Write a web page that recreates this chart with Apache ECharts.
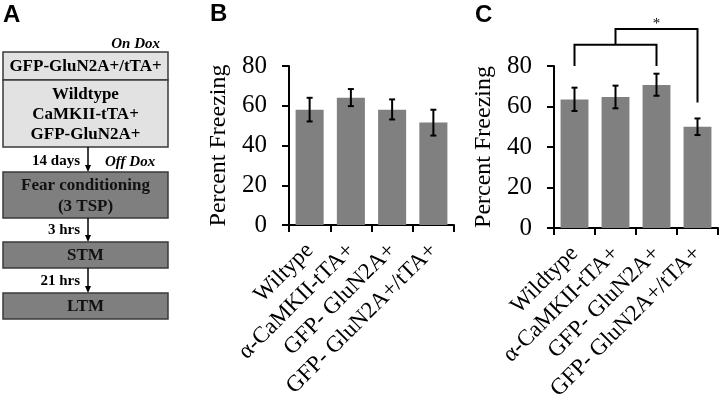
<!DOCTYPE html>
<html><head><meta charset="utf-8">
<script src="https://cdn.jsdelivr.net/npm/echarts@6/dist/echarts.min.js"></script>
<style>html,body{margin:0;padding:0;background:#fff}#c{width:720px;height:404px}</style>
</head><body><div id="c"></div>
<script>
const categoriesB = ['Wiltype', 'α-CaMKII-tTA+', 'GFP- GluN2A+', 'GFP- GluN2A+/tTA+'];
const categoriesC = ['Wildtype', 'α-CaMKII-tTA+', 'GFP- GluN2A+', 'GFP- GluN2A+/tTA+'];
const meansB = [58, 64, 58, 51.6];
const errLowB = [52.1, 59.8, 53.1, 45];
const errHighB = [64, 68.4, 63.2, 58];
const meansC = [63.5, 64.7, 70.6, 50];
const errLowC = [57.8, 59.1, 65.3, 45.9];
const errHighC = [69.3, 70.3, 76.2, 54.1];
const yMin = 0, yMax = 80, yStep = 20;
const yName = 'Percent Freezing';
// significance brackets in panel C: [fromCat, toCat, legLowLeft, top, legLowRight]
const bracket1 = [0, 2, 80, 90.5, 80];
const bracket2 = [1, 3, 90.5, 98.3, 62];
const sigLabel = '*';

const SERIF = '"Liberation Serif","Times New Roman",serif';
const chart = echarts.init(document.getElementById('c'), null, {renderer: 'canvas'});

function xAx(gi, cats) {
  return {
    type: 'category', gridIndex: gi, data: cats,
    axisLine: {lineStyle: {color: '#000', width: 2}},
    axisTick: {show: true, length: 7, lineStyle: {color: '#000', width: 2}},
    axisLabel: {interval: 0, rotate: 45, fontFamily: SERIF, fontSize: 23, color: '#000', margin: 22}
  };
}
function yAx(gi) {
  return {
    type: 'value', gridIndex: gi, min: yMin, max: yMax, interval: yStep,
    name: yName, nameLocation: 'middle', nameGap: 58,
    nameTextStyle: {fontFamily: SERIF, fontSize: 24, color: '#000'},
    axisLine: {show: true, lineStyle: {color: '#000', width: 2}},
    axisTick: {show: true, length: 7, lineStyle: {color: '#000', width: 2}},
    splitLine: {show: false},
    axisLabel: {fontFamily: SERIF, fontSize: 25, color: '#000', margin: 22}
  };
}
function errData(lo, hi) { return lo.map((l, i) => [i, l, hi[i]]); }
function errRender(params, api) {
  const x = api.value(0);
  const lo = api.coord([x, api.value(1)]);
  const hi = api.coord([x, api.value(2)]);
  const cap = 3, st = {stroke: '#000', lineWidth: 2};
  return {type: 'group', children: [
    {type: 'line', shape: {x1: lo[0], y1: lo[1], x2: hi[0], y2: hi[1]}, style: st},
    {type: 'line', shape: {x1: hi[0] - cap, y1: hi[1], x2: hi[0] + cap, y2: hi[1]}, style: st},
    {type: 'line', shape: {x1: lo[0] - cap, y1: lo[1], x2: lo[0] + cap, y2: lo[1]}, style: st}
  ]};
}

chart.setOption({
  animation: false,
  backgroundColor: '#fff',
  grid: [
    {left: 289, width: 165, top: 66, height: 159},
    {left: 554, width: 164, top: 66, height: 162}
  ],
  xAxis: [xAx(0, categoriesB), xAx(1, categoriesC)],
  yAxis: [yAx(0), yAx(1)],
  series: [
    {type: 'bar', xAxisIndex: 0, yAxisIndex: 0, data: meansB, barCategoryGap: '32%', itemStyle: {color: '#808080'}},
    {type: 'custom', xAxisIndex: 0, yAxisIndex: 0, data: errData(errLowB, errHighB), renderItem: errRender, z: 5},
    {type: 'bar', xAxisIndex: 1, yAxisIndex: 1, data: meansC, barCategoryGap: '32%', itemStyle: {color: '#808080'}},
    {type: 'custom', xAxisIndex: 1, yAxisIndex: 1, data: errData(errLowC, errHighC), renderItem: errRender, z: 5}
  ]
});

// ----- graphics: panel A flowchart, panel letters, brackets -----
const g = [];
function txt(x, y, s, font, align, fill) {
  g.push({type: 'text', x: x, y: y, style: {text: s, font: font, fill: fill || '#000',
    textAlign: align || 'center', textVerticalAlign: 'middle', align: align || 'center', verticalAlign: 'middle'}});
}
function box(x, y, w, h, fill) {
  g.push({type: 'rect', shape: {x: x, y: y, width: w, height: h}, style: {fill: fill, stroke: '#3a3a3a', lineWidth: 1.5}});
}
function arrow(x, y1, y2) {
  g.push({type: 'line', shape: {x1: x, y1: y1, x2: x, y2: y2 - 5}, style: {stroke: '#000', lineWidth: 1.5}});
  g.push({type: 'polygon', shape: {points: [[x - 3, y2 - 7], [x + 3, y2 - 7], [x, y2]]}, style: {fill: '#000'}});
}
const B17 = 'bold 17px ' + SERIF, B15 = 'bold 15px ' + SERIF, BI15 = 'italic bold 15px ' + SERIF;
const LET = 'bold 24px "Liberation Sans", Arial, sans-serif';
txt(3, 15, 'A', LET, 'left');
txt(210, 14, 'B', LET, 'left');
txt(475, 15, 'C', LET, 'left');

const BX = 3, BW = 165, CX = BX + BW / 2, AX = 88;
txt(160, 44, 'On Dox', BI15, 'right');
box(BX, 52, BW, 28, '#e2e2e2');
txt(CX, 67, 'GFP-GluN2A+/tTA+', B17);
box(BX, 80, BW, 67, '#e2e2e2');
txt(CX, 95, 'Wildtype', B17);
txt(CX, 115, 'CaMKII-tTA+', B17);
txt(CX, 135, 'GFP-GluN2A+', B17);
arrow(AX, 147, 172);
txt(80, 161, '14 days', B15, 'right');
txt(105, 162, 'Off Dox', BI15, 'left');
box(BX, 172, BW, 46, '#7f7f7f');
txt(CX, 186, 'Fear conditioning', B17, 'center', '#111');
txt(CX, 207, '(3 TSP)', B17, 'center', '#111');
arrow(AX, 218, 242);
txt(80, 230, '3 hrs', B15, 'right');
box(BX, 242, BW, 26, '#7f7f7f');
txt(CX, 256, 'STM', B17, 'center', '#111');
arrow(AX, 268, 293);
txt(80, 281, '21 hrs', B15, 'right');
box(BX, 293, BW, 26, '#7f7f7f');
txt(CX, 307, 'LTM', B17, 'center', '#111');

function P(c, v) { return chart.convertToPixel({xAxisIndex: 1, yAxisIndex: 1}, [c, v]); }
function bracket(b) {
  const a1 = P(b[0], b[2]), a2 = P(b[0], b[3]), b2 = P(b[1], b[3]), b1 = P(b[1], b[4]);
  g.push({type: 'polyline', shape: {points: [a1, a2, b2, b1]}, style: {stroke: '#000', lineWidth: 2, fill: null}, z: 10});
  return [(a2[0] + b2[0]) / 2, a2[1]];
}
bracket(bracket1);
const top2 = bracket(bracket2);
const mid = P(2, bracket2[3]);
txt(mid[0], top2[1] - 5, sigLabel, '15px ' + SERIF);

chart.setOption({graphic: g});
</script>
</body></html>
